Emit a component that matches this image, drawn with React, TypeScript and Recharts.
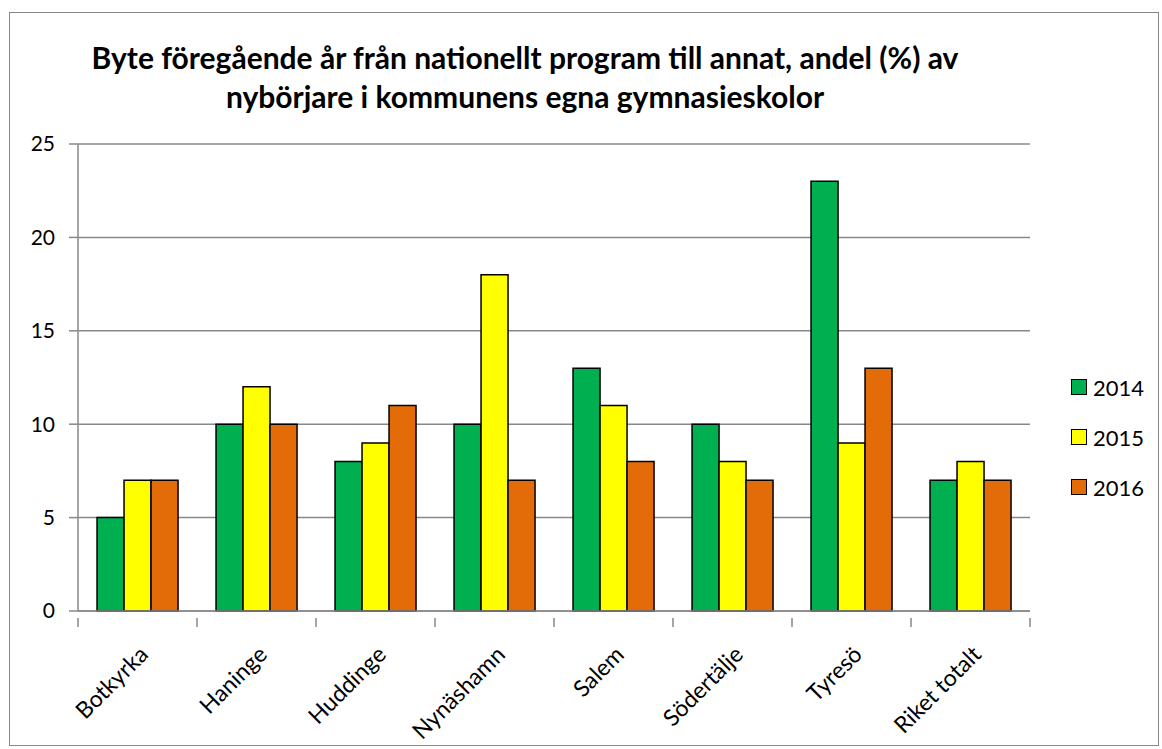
import React from 'react';
import { BarChart, Bar, XAxis, YAxis, CartesianGrid } from 'recharts';

const kommuner = ['Botkyrka', 'Haninge', 'Huddinge', 'Nynäshamn', 'Salem', 'Södertälje', 'Tyresö', 'Riket totalt'];
const v2014 = [5, 10, 8, 10, 13, 10, 23, 7];
const v2015 = [7, 12, 9, 18, 11, 8, 9, 8];
const v2016 = [7, 10, 11, 7, 8, 7, 13, 7];
const yTicks = [0, 5, 10, 15, 20, 25];
const series = [
  { key: '2014', color: '#00B050' },
  { key: '2015', color: '#FFFF00' },
  { key: '2016', color: '#E36C09' },
];

const data = kommuner.map((name, i) => ({ name, '2014': v2014[i], '2015': v2015[i], '2016': v2016[i] }));

const FONT = 'Lato, "Noto Sans", sans-serif';
const HALF_BAND = 59.5;

const XTick = (props: any) => {
  const { x, y, payload, index } = props;
  return (
    <g transform={`translate(${x},${y})`}>
      <line x1={-HALF_BAND} y1={-1} x2={-HALF_BAND} y2={8} stroke="#888" strokeWidth={1.5} />
      {index === kommuner.length - 1 && (
        <line x1={HALF_BAND} y1={-1} x2={HALF_BAND} y2={8} stroke="#888" strokeWidth={1.5} />
      )}
      <text
        x={0}
        y={0}
        transform="translate(12,37) rotate(-45)"
        textAnchor="end"
        fontSize={23}
        fontFamily={FONT}
        fill="#000"
      >
        {payload.value}
      </text>
    </g>
  );
};

export default function App() {
  return (
    <div style={{ position: 'absolute', left: 0, top: 0, width: 1162, height: 749, background: '#fff' }}>
      <div
        style={{
          position: 'absolute',
          left: 9,
          top: 12,
          width: 1150,
          height: 734,
          border: '1.5px solid #888',
          boxSizing: 'border-box',
        }}
      />
      <div
        style={{
          position: 'absolute',
          left: 25,
          width: 1000,
          top: 38,
          textAlign: 'center',
          fontFamily: FONT,
          fontWeight: 'bold',
          fontSize: 30,
          lineHeight: '39px',
        }}
      >
        Byte föregående år från nationellt program till annat, andel (%) av
        <br />
        nybörjare i kommunens egna gymnasieskolor
      </div>
      <div style={{ position: 'absolute', left: 1071, top: 362, fontFamily: FONT, fontSize: 22 }}>
        {series.map((s) => (
          <div key={s.key} style={{ display: 'flex', alignItems: 'center', height: 50 }}>
            <span
              style={{
                width: 14,
                height: 14,
                background: s.color,
                border: '1.5px solid #000',
                marginRight: 6,
                display: 'inline-block',
              }}
            />
            <span>{s.key}</span>
          </div>
        ))}
      </div>
      <div style={{ position: 'absolute', left: 0, top: 0 }}>
        <BarChart
          width={1162}
          height={749}
          data={data}
          margin={{ top: 144, right: 132, left: 18, bottom: 38 }}
          barCategoryGap="16%"
          barGap={0}
        >
          <CartesianGrid vertical={false} stroke="#888" strokeWidth={1.5} />
          <XAxis
            dataKey="name"
            height={100}
            interval={0}
            tick={<XTick />}
            tickLine={false}
            axisLine={{ stroke: '#888', strokeWidth: 1.5 }}
          />
          <YAxis
            width={60}
            domain={[0, 25]}
            ticks={yTicks}
            interval={0}
            tickSize={9}
            tickMargin={14}
            tickLine={{ stroke: '#888', strokeWidth: 1.5 }}
            axisLine={{ stroke: '#888', strokeWidth: 1.5 }}
            tick={{ fontSize: 21, fontFamily: FONT, fill: '#000' }}
          />
          {series.map((s) => (
            <Bar
              key={s.key}
              dataKey={s.key}
              fill={s.color}
              stroke="#000"
              strokeWidth={1.5}
              isAnimationActive={false}
            />
          ))}
        </BarChart>
      </div>
    </div>
  );
}
